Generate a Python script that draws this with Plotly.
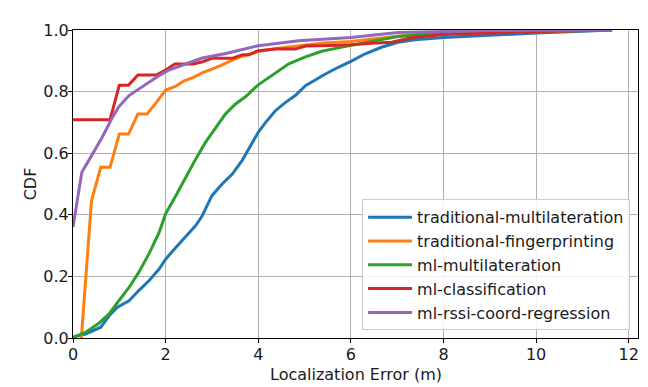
import plotly.graph_objects as go

names = ["traditional-multilateration", "traditional-fingerprinting",
         "ml-multilateration", "ml-classification", "ml-rssi-coord-regression"]
colors = ["#1f77b4", "#ff7f0e", "#2ca02c", "#d62728", "#9467bd"]

trad_multi_x = [0, 0.27, 0.6, 0.78, 0.96, 1.21, 1.42, 1.64, 1.86, 2.0, 2.22, 2.43, 2.65, 2.79, 3.0,
                3.22, 3.44, 3.65, 3.8, 4.0, 4.16, 4.37, 4.59, 4.8, 5.02, 5.23, 5.45, 5.73, 6.0, 6.3,
                6.66, 7.02, 7.38, 8.0, 9.0, 10.0, 11.0, 11.64]
trad_multi_y = [0.003, 0.013, 0.035, 0.072, 0.1, 0.121, 0.154, 0.186, 0.224, 0.256, 0.294, 0.327,
                0.365, 0.397, 0.462, 0.5, 0.532, 0.576, 0.614, 0.668, 0.7, 0.738, 0.765, 0.787,
                0.819, 0.838, 0.857, 0.879, 0.898, 0.922, 0.944, 0.96, 0.968, 0.976, 0.984, 0.99,
                0.996, 1.0]

trad_fp_x = [0.18, 0.4, 0.6, 0.8, 1.0, 1.2, 1.4, 1.6, 1.8, 2.0, 2.2, 2.4, 2.6, 2.8, 3.0, 3.2, 3.4,
             3.6, 3.8, 4.0, 4.4, 4.8, 5.4, 6.0, 7.0, 8.0, 9.0, 10.0, 11.64]
trad_fp_y = [0.0, 0.446, 0.554, 0.554, 0.662, 0.662, 0.727, 0.727, 0.765, 0.805, 0.816, 0.835,
             0.846, 0.862, 0.873, 0.885, 0.9, 0.912, 0.92, 0.93, 0.94, 0.948, 0.958, 0.963, 0.98,
             0.99, 0.993, 0.996, 1.0]

ml_multi_x = [0, 0.27, 0.56, 0.78, 0.99, 1.21, 1.42, 1.64, 1.86, 2.0, 2.22, 2.43, 2.65, 2.86, 3.08,
              3.29, 3.51, 3.73, 4.0, 4.23, 4.44, 4.66, 5.02, 5.37, 5.73, 6.0, 6.45, 7.02, 7.6, 8.0,
              9.0, 10.0, 11.64]
ml_multi_y = [0.002, 0.018, 0.048, 0.078, 0.121, 0.164, 0.213, 0.273, 0.343, 0.403, 0.462, 0.522,
              0.581, 0.635, 0.684, 0.727, 0.76, 0.784, 0.822, 0.846, 0.87, 0.89, 0.913, 0.931,
              0.942, 0.949, 0.963, 0.979, 0.987, 0.989, 0.994, 0.997, 1.0]

ml_class_x = [0, 0.8, 1.0, 1.2, 1.4, 1.8, 2.0, 2.2, 2.6, 2.8, 3.0, 3.44, 3.66, 3.8, 4.0, 4.37, 4.8,
              5.02, 5.59, 6.0, 6.45, 6.88, 7.3, 8.0, 9.0, 10.0, 11.64]
ml_class_y = [0.709, 0.709, 0.821, 0.821, 0.854, 0.854, 0.87, 0.89, 0.89, 0.897, 0.908, 0.908,
              0.92, 0.92, 0.933, 0.938, 0.938, 0.948, 0.95, 0.952, 0.957, 0.96, 0.975, 0.985,
              0.99, 0.995, 1.0]

ml_rssi_x = [0, 0.19, 0.42, 0.63, 0.85, 0.99, 1.21, 1.42, 1.64, 1.86, 2.07, 2.43, 2.79, 3.3, 4.0,
             4.87, 6.0, 7.02, 8.0, 9.0, 10.0, 11.64]
ml_rssi_y = [0.36, 0.538, 0.597, 0.652, 0.716, 0.751, 0.787, 0.808, 0.83, 0.852, 0.87, 0.89,
             0.909, 0.924, 0.949, 0.965, 0.976, 0.992, 0.996, 0.998, 0.999, 1.0]

x_ticks = [0, 2, 4, 6, 8, 10, 12]
y_ticks = [0.0, 0.2, 0.4, 0.6, 0.8, 1.0]

series = [(trad_multi_x, trad_multi_y), (trad_fp_x, trad_fp_y), (ml_multi_x, ml_multi_y),
          (ml_class_x, ml_class_y), (ml_rssi_x, ml_rssi_y)]

FONT = "DejaVu Sans"
FS = 16
fig = go.Figure()
for i, ((xs, ys), n, c) in enumerate(zip(series, names, colors)):
    fig.add_trace(go.Scatter(x=xs, y=ys, mode="lines", name=n,
                             line=dict(color=c, width=3)))

axis_common = dict(showgrid=True, gridcolor="#b0b0b0", gridwidth=1, zeroline=False,
                   showline=True, linecolor="black", linewidth=1.2, mirror=True,
                   ticks="outside", ticklen=4, tickcolor="black",
                   tickfont=dict(family=FONT, size=FS, color="#1a1a1a"))

fig.update_layout(
    width=648, height=387,
    margin=dict(l=73, r=10, t=30, b=49),
    paper_bgcolor="white", plot_bgcolor="white",
    font=dict(family=FONT, size=FS, color="#1a1a1a"),
    xaxis=dict(range=[0, 12.2], tickvals=x_ticks, ticklabelstandoff=-2, **axis_common),
    yaxis=dict(range=[0, 1.0], tickvals=y_ticks, tickformat=".1f", ticklabelstandoff=-4,
               title=dict(text="CDF", font=dict(family=FONT, size=FS), standoff=2),
               **axis_common),
    legend=dict(x=0.986, y=0.025, xanchor="right", yanchor="bottom", itemwidth=44,
                bgcolor="rgba(255,255,255,0.85)", bordercolor="#cccccc", borderwidth=1,
                font=dict(family=FONT, size=FS, color="#1a1a1a")),
    annotations=[dict(text="Localization Error (m)", xref="paper", yref="paper",
                      x=0.5, y=-0.118, xanchor="center", yanchor="middle", showarrow=False,
                      font=dict(family=FONT, size=FS, color="#1a1a1a"))],
    showlegend=True,
)

fig.write_html("out.html", config={"displayModeBar": False},
               post_script="document.body.style.margin='0';document.body.style.overflow='hidden';")
